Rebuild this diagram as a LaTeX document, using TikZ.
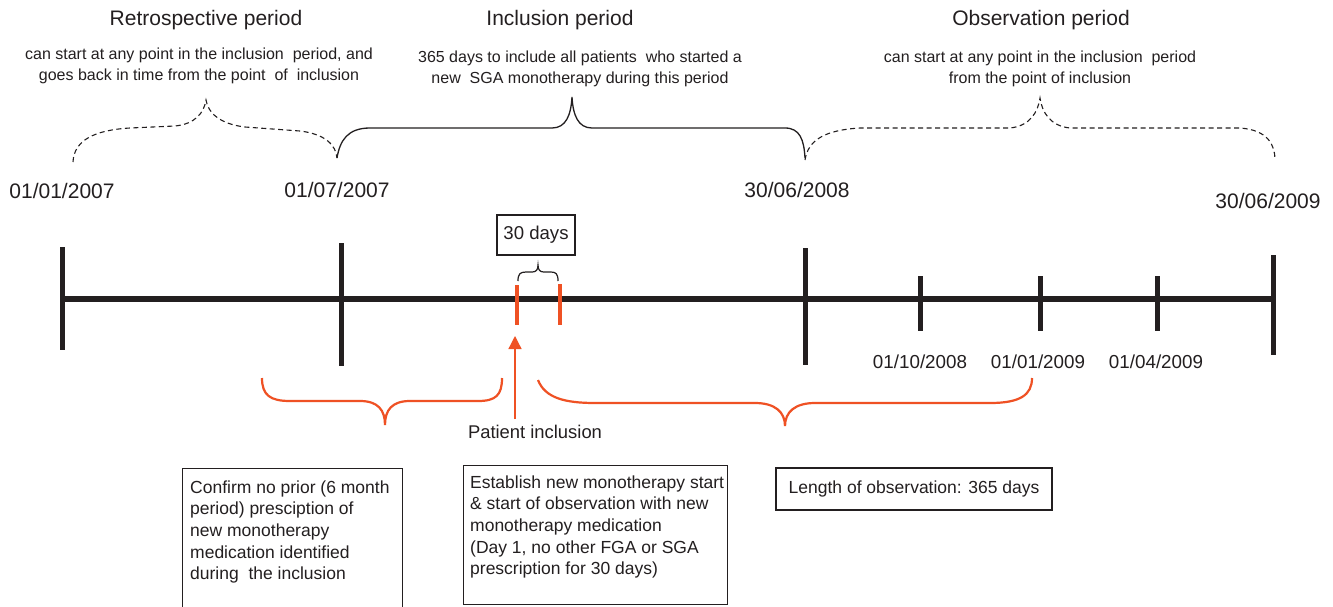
\documentclass[tikz,border=0pt]{standalone}
\usepackage{fontspec}
\setmainfont{Liberation Sans}
\usetikzlibrary{arrows.meta}
\definecolor{ink}{HTML}{231F20}
\definecolor{org}{HTML}{EF5124}
\tikzset{
 txt/.style={text=ink, inner sep=0pt, align=center, font=\fontsize{16}{21}\selectfont},
 ttl/.style={text=ink, inner sep=0pt, font=\fontsize{21}{25}\selectfont},
 datel/.style={text=ink, inner sep=0pt, font=\fontsize{21}{25}\selectfont},
 sdate/.style={text=ink, inner sep=0pt, font=\fontsize{18.8}{22}\selectfont},
 ticker/.style={line width=5pt, draw=ink},
 oticker/.style={line width=4.5pt, draw=org},
 frame/.style={draw=ink, line width=1.2pt, inner sep=0pt},
 btxt/.style={text=ink, inner sep=0pt, align=left, anchor=north west, font=\fontsize{17.5}{21.6}\selectfont},
 dbrace/.style={draw=ink, line width=1.1pt, dash pattern=on 5pt off 3.5pt},
 sbrace/.style={draw=ink, line width=1.3pt},
 obrace/.style={draw=org, line width=2.2pt},
}
\begin{document}
\begin{tikzpicture}[x=1pt,y=-1pt]
\clip (0,0) rectangle (1333,606);
\fill[white] (0,0) rectangle (1333,606);

% titles and explanations
\node[ttl] (tr) at (206,20) {Retrospective period};
\node[ttl] (ti) at (560,20) {Inclusion period};
\node[ttl] (to) at (1041,20) {Observation period};
\node[txt] (sr) at (199,65.5) {can start at any point in the inclusion\ \ period, and\\goes back in time from the point\ \ of\ \ inclusion};
\node[txt] (si) at (580,68.5) {365 days to include all patients\ \ who started a\\new\ \ SGA monotherapy during this period};
\node[txt] (so) at (1040,69) {can start at any point in the inclusion\ \ period\\from the point of inclusion};

% top braces
\draw[dbrace] (73,162) .. controls (74,140) and (95,130) .. (130,128) -- (175,126)
  .. controls (195,124) and (204,113) .. (206,100)
  .. controls (208,113) and (220,124) .. (245,127) -- (300,131)
  .. controls (325,134) and (336,145) .. (337,158);
\draw[sbrace] (337,158) .. controls (340,140) and (348,128) .. (370,128) -- (552,128)
  .. controls (566,128) and (571,115) .. (572,97)
  .. controls (573,115) and (578,128) .. (592,128) -- (785,128)
  .. controls (800,128) and (804,140) .. (805,158);
\draw[dbrace] (805,160) .. controls (808,140) and (825,130) .. (860,128) -- (1010,128)
  .. controls (1030,126) and (1038,112) .. (1040,98)
  .. controls (1042,112) and (1050,126) .. (1070,128) -- (1240,128)
  .. controls (1268,130) and (1275,145) .. (1275,160);

% dates
\node[datel] (d1) at (62,191) {01/01/2007};
\node[datel] (d2) at (337,190) {01/07/2007};
\node[datel] (d3) at (797,190) {30/06/2008};
\node[datel] (d4) at (1268,201) {30/06/2009};
\node[sdate] (d5) at (920,362) {01/10/2008};
\node[sdate] (d6) at (1038,362) {01/01/2009};
\node[sdate] (d7) at (1156,362) {01/04/2009};

% timeline
\coordinate (L) at (62,299);
\coordinate (R) at (1273,299);
\draw[line width=6pt, ink] (L) -- (R);
\draw[ticker] (62,247) -- (62,350);
\draw[ticker] (341,243) -- (341,366);
\draw[ticker] (805,248) -- (805,365);
\draw[ticker] (920,276) -- (920,331);
\draw[ticker] (1040,276) -- (1040,331);
\draw[ticker] (1157,276) -- (1157,331);
\draw[ticker] (1273,255) -- (1273,355);
\draw[oticker] (517,285) -- (517,325);
\draw[oticker] (560,284) -- (560,325);

% 30 days
\node[frame, minimum width=78, minimum height=40, text=ink, font=\fontsize{18.6}{22}\selectfont] (thirty) at (536,235) {30 days};
\draw[draw=ink, line width=1.2pt] (518,281) .. controls (518,274) and (520,272) .. (526,272) -- (532,272)
  .. controls (536,272) and (538,270) .. (538,265)
  .. controls (538,270) and (540,272) .. (544,272) -- (551,272)
  .. controls (556,272) and (558,274) .. (558,281);

% patient inclusion arrow
\node[text=ink, inner sep=0pt, font=\fontsize{18.4}{22}\selectfont] (pi) at (535,432) {Patient inclusion};
\coordinate (pibot) at (515,419);
\coordinate (pitop) at (515,336);
\draw[org, line width=1.3pt, -{Triangle[length=13pt,width=13pt]}] (pibot) -- (pitop);

% orange braces
\draw[obrace] (262,378) .. controls (262,395) and (270,401) .. (290,401) -- (360,401)
  .. controls (378,401) and (385,410) .. (385,425)
  .. controls (385,410) and (392,401) .. (410,401) -- (478,401)
  .. controls (496,401) and (502,395) .. (502,378);
\draw[obrace] (538,380) .. controls (545,398) and (565,403) .. (595,403) -- (755,403)
  .. controls (775,403) and (785,412) .. (785,426)
  .. controls (785,412) and (795,403) .. (815,403) -- (990,403)
  .. controls (1020,403) and (1032,395) .. (1032,378);

% boxes
\node[frame, minimum width=220, minimum height=160, anchor=north west] (b1) at (182,468) {};
\node[btxt] (b1t) at ([shift={(8,12.5)}]b1.north west) {Confirm no prior (6 month\\period) presciption of\\new monotherapy\\medication identified\\during\ \ the inclusion};
\node[frame, minimum width=264, minimum height=139, anchor=north west] (b2) at (463,465) {};
\node[btxt] (b2t) at ([shift={(7,10.5)}]b2.north west) {Establish new monotherapy start\\\& start of observation with new\\monotherapy medication\\(Day 1, no other FGA or SGA\\prescription for 30 days)};
\node[frame, minimum width=276, minimum height=42, text=ink, font=\fontsize{17.5}{21.6}\selectfont] (b3) at (914,489) {Length of observation: 365 days};
\end{tikzpicture}
\end{document}
